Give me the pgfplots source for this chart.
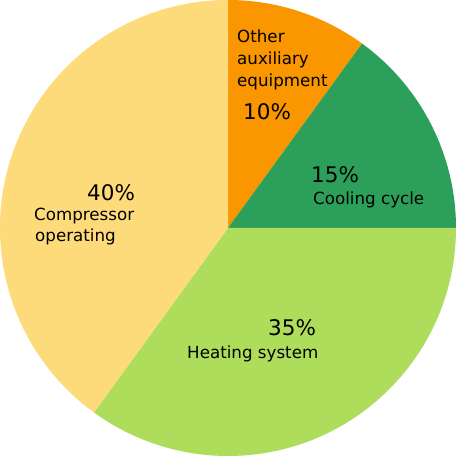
\documentclass[border=0pt]{standalone}
\usepackage{pgfplots}
\pgfplotsset{compat=1.18}
\usepackage{fontspec}
\setmainfont{DejaVu Sans}

\definecolor{cOther}{HTML}{FA9600}
\definecolor{cCool}{HTML}{2CA05A}
\definecolor{cHeat}{HTML}{AEDD5B}
\definecolor{cComp}{HTML}{FDDB7B}

% shares in percent, clockwise from 12 o'clock
\def\pOther{10}
\def\pCool{15}
\def\pHeat{35}
\def\pComp{40}

\newcommand{\lbl}{\fontsize{16.7bp}{22bp}\selectfont}
\newcommand{\pct}{\fontsize{21.5bp}{24bp}\selectfont}

\begin{document}
\begin{tikzpicture}
\begin{axis}[
    width=456bp, height=456bp, scale only axis,
    xmin=-228, xmax=228, ymin=-228, ymax=228,
    hide axis, clip=false,
]
\pgfmathsetmacro{\aA}{90}
\pgfmathsetmacro{\aB}{\aA-3.6*\pOther}
\pgfmathsetmacro{\aC}{\aB-3.6*\pCool}
\pgfmathsetmacro{\aD}{\aC-3.6*\pHeat}
\pgfmathsetmacro{\aE}{\aD-3.6*\pComp}
\fill[cOther] (axis cs:0,0) -- ++(\aA:228bp) arc[start angle=\aA, end angle=\aB, radius=228bp] -- cycle;
\fill[cCool] (axis cs:0,0) -- ++(\aB:228bp) arc[start angle=\aB, end angle=\aC, radius=228bp] -- cycle;
\fill[cHeat] (axis cs:0,0) -- ++(\aC:228bp) arc[start angle=\aC, end angle=\aD, radius=228bp] -- cycle;
\fill[cComp] (axis cs:0,0) -- ++(\aD:228bp) arc[start angle=\aD, end angle=\aE, radius=228bp] -- cycle;

\node[anchor=base west, inner sep=0pt] at (axis cs:9,185) {\lbl Other};
\node[anchor=base west, inner sep=0pt] at (axis cs:9,163) {\lbl auxiliary};
\node[anchor=base west, inner sep=0pt] at (axis cs:9,141) {\lbl equipment};
\node[anchor=base west, inner sep=0pt] at (axis cs:15,108) {\pct 10\%};

\node[anchor=base west, inner sep=0pt] at (axis cs:83,45) {\pct 15\%};
\node[anchor=base west, inner sep=0pt] at (axis cs:85,23) {\lbl Cooling cycle};

\node[anchor=base west, inner sep=0pt] at (axis cs:40,-108) {\pct 35\%};
\node[anchor=base west, inner sep=0pt] at (axis cs:-41,-131) {\lbl Heating system};

\node[anchor=base west, inner sep=0pt] at (axis cs:-141,27) {\pct 40\%};
\node[anchor=base west, inner sep=0pt] at (axis cs:-194,7) {\lbl Compressor};
\node[anchor=base west, inner sep=0pt] at (axis cs:-193,-14) {\lbl operating};
\end{axis}
\pgfresetboundingbox
\path[use as bounding box] (current axis.south west) rectangle (current axis.north east);
\end{tikzpicture}
\end{document}
